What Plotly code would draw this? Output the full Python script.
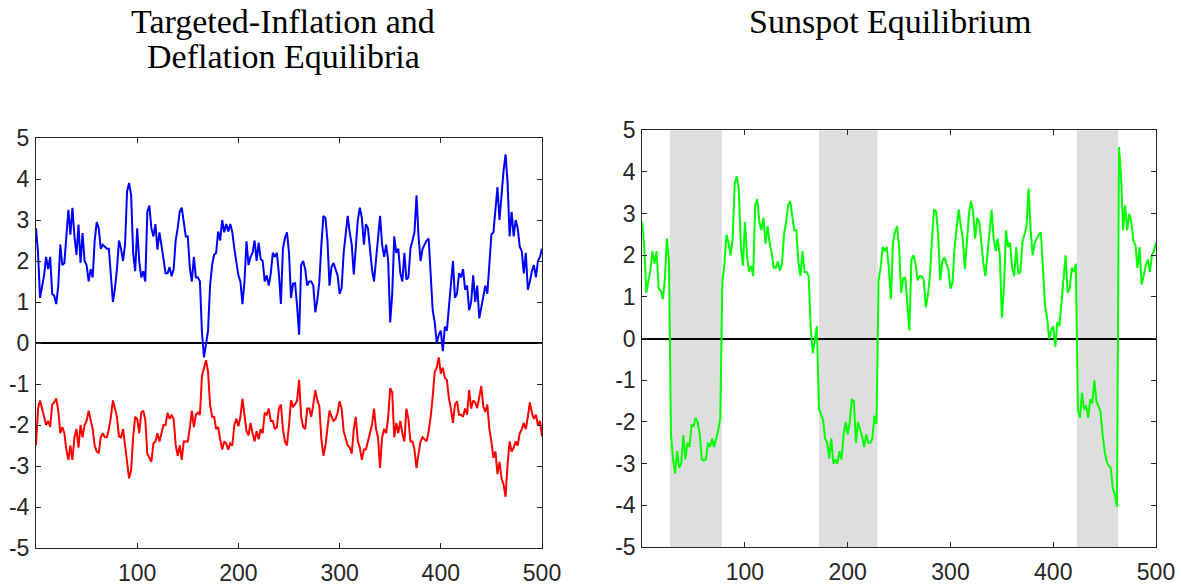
# coding: utf-8

# https://plotly.com/python
import plotly.graph_objects as go

# Periods (every second period of the simulated path)
periods = list(range(0, 501, 2))

# Inflation in the targeted-inflation equilibrium
targeted = [
    2.8, 2.2, 1.1, 1.4, 1.65, 2.1, 1.8, 2.1, 1.2, 1.15,
    0.95, 1.4, 2.4, 1.9, 1.95, 2.6, 3.25, 2.64, 3.3, 2.6,
    2.15, 2.89, 1.95, 2.68, 2.0, 1.9, 1.5, 1.8, 1.6, 2.5,
    2.95, 2.8, 2.3, 2.4, 2.35, 2.3, 2.3, 1.6, 1.0, 1.34,
    1.8, 2.5, 2.3, 2.0, 2.4, 3.7, 3.9, 3.6, 2.2, 1.75,
    2.8, 2.0, 1.6, 1.75, 1.5, 3.2, 3.35, 2.8, 2.6, 2.9,
    2.28, 2.7, 2.3, 2.05, 1.7, 1.7, 1.85, 1.63, 1.8, 2.5,
    2.8, 3.2, 3.3, 3.0, 2.6, 2.6, 1.83, 1.5, 2.1, 1.6,
    1.6, 1.5, 0.25, -0.35, 0.0, 0.3, 1.4, 1.9, 2.15, 2.2,
    2.72, 2.5, 3.0, 2.7, 2.9, 2.72, 2.9, 2.7, 2.3, 1.9,
    1.65, 1.5, 0.95, 1.5, 2.48, 1.9, 2.1, 2.2, 2.5, 2.0,
    2.45, 2.05, 2.0, 1.5, 1.65, 1.4, 1.7, 2.2, 2.1, 2.2,
    1.7, 0.95, 2.3, 2.56, 2.7, 2.2, 1.1, 1.45, 1.46, 0.9,
    0.2, 1.9, 2.0, 1.8, 1.4, 1.5, 1.5, 1.4, 0.75, 1.05,
    1.5, 2.4, 3.1, 3.05, 2.5, 1.4, 1.85, 1.95, 1.8, 1.65,
    1.2, 1.34, 2.2, 2.6, 3.1, 2.7, 2.4, 1.67, 2.4, 3.0,
    3.3, 3.05, 2.4, 2.9, 2.8, 2.24, 1.8, 1.5, 2.1, 2.6,
    3.1, 2.4, 2.1, 2.4, 2.0, 0.5, 1.2, 2.6, 2.2, 2.3,
    1.7, 1.5, 2.2, 1.55, 1.6, 2.3, 2.52, 2.7, 3.6, 2.6,
    2.0, 2.3, 2.4, 2.5, 2.55, 1.8, 0.8, 0.5, 0.0, 0.2,
    0.3, -0.2, 0.4, 0.3, 0.9, 1.45, 2.0, 1.1, 1.2, 1.7,
    1.6, 1.8, 1.3, 1.4, 0.8, 1.0, 1.65, 1.0, 1.4, 0.6,
    0.9, 1.2, 1.4, 1.2, 1.9, 2.65, 2.7, 3.2, 3.8, 3.0,
    3.7, 4.2, 4.6, 3.9, 2.6, 3.2, 2.6, 3.0, 2.8, 2.35,
    2.24, 1.7, 2.2, 1.3, 1.5, 1.75, 1.9, 1.6, 2.0, 2.1,
    2.3,
]

# Inflation in the deflation equilibrium
deflation = [
    -2.5, -1.6, -1.4, -1.6, -1.8, -2.0, -1.9, -2.05, -1.5, -1.45,
    -1.35, -1.65, -2.2, -2.05, -2.2, -2.6, -2.85, -2.5, -2.85, -2.3,
    -2.1, -2.55, -2.0, -2.3, -2.0, -1.9, -1.65, -1.85, -2.1, -2.5,
    -2.65, -2.68, -2.3, -2.2, -2.3, -2.3, -2.1, -1.8, -1.4, -1.6,
    -1.8, -2.28, -2.3, -2.1, -2.5, -3.0, -3.3, -3.1, -2.3, -1.8,
    -1.85, -2.2, -1.7, -1.65, -1.87, -2.7, -2.8, -2.9, -2.45, -2.4,
    -2.2, -2.4, -2.2, -2.0, -2.0, -1.7, -1.85, -1.75, -1.85, -2.48,
    -2.75, -2.5, -2.85, -2.4, -2.4, -2.4, -2.07, -1.65, -2.05, -1.75,
    -1.7, -1.75, -0.8, -0.6, -0.42, -0.7, -1.5, -1.8, -1.8, -2.1,
    -2.05, -2.35, -2.6, -2.4, -2.45, -2.6, -2.45, -2.5, -2.0, -1.85,
    -2.03, -1.8, -1.36, -1.75, -2.15, -2.25, -1.95, -2.2, -2.4, -2.15,
    -2.35, -2.1, -2.2, -1.7, -1.75, -1.6, -1.9, -1.9, -2.1, -2.05,
    -1.6, -1.5, -2.1, -2.4, -2.5, -2.0, -1.4, -1.55, -1.5, -1.4,
    -0.9, -1.8, -2.05, -2.1, -1.6, -1.6, -1.8, -1.5, -1.15, -1.4,
    -1.55, -2.35, -2.75, -2.5, -2.1, -1.65, -1.8, -1.9, -1.85, -1.7,
    -1.42, -1.6, -2.15, -2.3, -2.5, -2.55, -2.7, -2.1, -1.8, -2.4,
    -2.55, -2.85, -2.6, -2.6, -2.4, -2.2, -2.0, -1.6, -2.1, -2.3,
    -3.05, -2.3, -2.1, -2.2, -1.8, -1.1, -1.2, -2.3, -1.95, -2.2,
    -1.9, -2.2, -2.4, -1.6, -1.85, -2.4, -2.4, -2.6, -3.05, -2.7,
    -2.4, -2.3, -2.35, -2.4, -2.15, -1.8, -1.3, -0.7, -0.6, -0.35,
    -0.75, -0.6, -0.85, -0.9, -1.35, -1.6, -1.95, -1.5, -1.42, -1.75,
    -1.75, -1.8, -1.6, -1.75, -1.14, -1.6, -1.4, -1.45, -1.59, -1.3,
    -1.05, -1.55, -1.68, -1.5, -2.1, -2.4, -2.8, -2.65, -3.2, -2.9,
    -3.3, -3.45, -3.75, -2.95, -2.4, -2.65, -2.55, -2.4, -2.5, -2.2,
    -2.1, -1.95, -2.1, -1.8, -1.45, -1.7, -1.85, -1.75, -2.0, -1.9,
    -2.28,
]

# Sunspot equilibrium: inflation while in the pessimistic state
# (first period of each episode, then values every second period)
bust_starts = [28, 172, 424]
bust1 = [
    -2.3, -2.9, -3.24, -2.7, -3.1, -3.0, -2.32, -2.9, -2.5, -2.6,
    -2.08, -2.1, -1.9, -2.0, -2.3, -2.9, -2.92, -2.9, -2.5, -2.6,
    -2.4, -2.6, -2.4, -2.2, -1.9,
]
bust2 = [
    -1.68, -1.84, -1.95, -2.4, -2.5, -2.88, -2.4, -3.0, -2.9, -3.0,
    -2.7, -2.9, -2.3, -2.0, -2.3, -2.0, -1.45, -1.5, -2.5, -2.0,
    -2.15, -2.35, -2.6, -2.3, -2.5, -2.5, -2.4, -1.85, -2.05,
]
bust3 = [
    -1.7, -1.9, -1.3, -1.7, -1.6, -1.9, -1.45, -1.55, -1.0, -1.5,
    -1.65, -1.75, -2.3, -2.7, -2.95, -3.05, -3.1, -3.6, -3.75, -4.04,
]

# Pessimistic-state episodes (shaded)
shade_start = [27, 172, 423]
shade_end = [77.5, 229, 463]

# Axis ticks
xticks = [100, 200, 300, 400, 500]
yticks = [-5, -4, -3, -2, -1, 0, 1, 2, 3, 4, 5]
yticklabels = ['-5', '-4', '-3', '-2', '-1', '0', '1', '2', '3', '4', '5']

# Sunspot path: targeted values, replaced during the pessimistic episodes
sunspot = list(targeted)
for start, seg in zip(bust_starts, [bust1, bust2, bust3]):
    i0 = periods.index(start)
    sunspot[i0:i0 + len(seg)] = seg

W, H = 1182, 585


def px_x(x):
    # pixel from left -> paper fraction
    return x / W


def px_y(y):
    # pixel from top -> paper fraction
    return 1 - y / H


axcolor = '#262626'
tickfont = dict(family='Liberation Sans, Arial, sans-serif', size=23, color=axcolor)
titlefont = dict(family='Liberation Serif, serif', size=34, color='black')

fig = go.Figure()

fig.add_trace(go.Scatter(x=periods, y=targeted, mode='lines',
                         line=dict(color='#0000ff', width=2),
                         xaxis='x', yaxis='y', showlegend=False))
fig.add_trace(go.Scatter(x=periods, y=deflation, mode='lines',
                         line=dict(color='#ff0000', width=2),
                         xaxis='x', yaxis='y', showlegend=False))
fig.add_trace(go.Scatter(x=periods, y=sunspot, mode='lines',
                         line=dict(color='#00ff00', width=2),
                         xaxis='x2', yaxis='y2', showlegend=False))

# Shaded pessimistic episodes
for x0, x1 in zip(shade_start, shade_end):
    fig.add_shape(type='rect', xref='x2', yref='y2 domain',
                  x0=x0, x1=x1, y0=0, y1=1,
                  fillcolor='#dedede', line=dict(width=0), layer='below')

xaxis_settings = dict(
    range=[0, 500],
    tickvals=xticks,
    ticks='inside',
    ticklen=5,
    tickcolor=axcolor,
    showline=True,
    linecolor=axcolor,
    linewidth=1,
    mirror='ticks',
    showgrid=False,
    zeroline=False,
    tickfont=tickfont,
    ticklabelstandoff=4,
)
yaxis_settings = dict(
    range=[-5, 5],
    tickvals=yticks,
    ticktext=yticklabels,
    ticks='inside',
    ticklen=5,
    tickcolor=axcolor,
    showline=True,
    linecolor=axcolor,
    linewidth=1,
    mirror='ticks',
    showgrid=False,
    zeroline=True,
    zerolinecolor='black',
    zerolinewidth=2,
    tickfont=tickfont,
    ticklabelstandoff=1,
)

fig.update_layout(
    width=W,
    height=H,
    margin=dict(l=0, r=0, t=0, b=0, autoexpand=False),
    paper_bgcolor='white',
    plot_bgcolor='white',
    xaxis=dict(domain=[px_x(36), px_x(542)], anchor='y', **xaxis_settings),
    yaxis=dict(domain=[px_y(548), px_y(138)], anchor='x', **yaxis_settings),
    xaxis2=dict(domain=[px_x(642.2), px_x(1156)], anchor='y2', **xaxis_settings),
    yaxis2=dict(domain=[px_y(547), px_y(130.3)], anchor='x2', **yaxis_settings),
)

# Titles (one annotation per line to keep the tight line spacing)
titles = [
    ('Targeted-Inflation and', 283, 22),
    ('Deflation Equilibria', 283, 57),
    ('Sunspot Equilibrium', 890, 22),
]
for text, xc, yc in titles:
    fig.add_annotation(text=text, x=px_x(xc), y=px_y(yc),
                       xref='paper', yref='paper',
                       xanchor='center', yanchor='middle',
                       showarrow=False, font=titlefont)

# Drop the browser's default body margin so the figure fills the window
fig.write_html('out.html', config={'displayModeBar': False},
               post_script="document.body.style.margin = '0';")
